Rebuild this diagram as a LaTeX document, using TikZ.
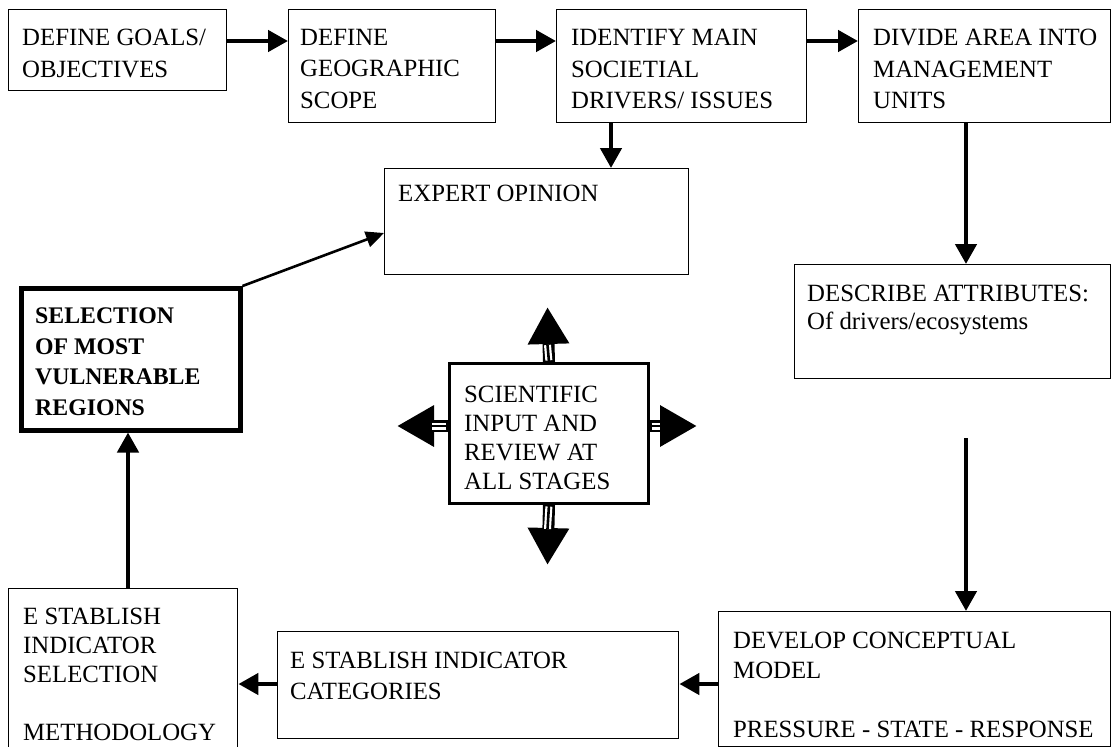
\documentclass[tikz,border=0pt]{standalone}
\usepackage{fontspec}
\setmainfont{Liberation Serif}
\usetikzlibrary{arrows.meta}
\tikzset{
  box/.style={draw=black, line width=1.4pt, anchor=north west, inner sep=0pt},
  txt/.style={anchor=north west, inner sep=0pt, align=left, font=\fontsize{24.8}{29}\selectfont},
  toptxt/.style={txt, font=\fontsize{24.8}{31.5}\selectfont},
  arr/.style={line width=4.5pt, -{Triangle[length=20pt,width=21pt]}},
  thinarr/.style={line width=2.6pt, -{Triangle[length=18pt,width=16pt]}},
  bigarr/.style={line width=12pt, -{Triangle[length=37pt,width=39pt]}},
  gapw/.style={white, line width=7pt, shorten <=1.6pt},
  gapb/.style={black, line width=2.6pt},
}
\begin{document}
\begin{tikzpicture}[x=1pt,y=-1pt]
\clip (0,0) rectangle (1112,747);
\fill[white] (0,0) rectangle (1112,747);

% boxes
\node[box, minimum width=218pt, minimum height=81pt] (goals) at (8,9) {};
\node[box, minimum width=207pt, minimum height=113pt] (geog) at (288,9) {};
\node[box, minimum width=250pt, minimum height=113pt] (ident) at (556,9) {};
\node[box, minimum width=252pt, minimum height=113pt] (divide) at (858,9) {};
\node[box, minimum width=304pt, minimum height=106pt] (expert) at (384,168) {};
\node[box, line width=4.5pt, minimum width=219pt, minimum height=142pt] (select) at (19,286) {};
\node[box, line width=3pt, minimum width=199pt, minimum height=140pt] (sci) at (448,362) {};
\node[box, minimum width=316pt, minimum height=114pt] (describe) at (794,264) {};
\node[box, minimum width=392pt, minimum height=135pt] (develop) at (718,611) {};
\node[box, minimum width=401pt, minimum height=107pt] (categ) at (277,631) {};
\node[box, minimum width=229pt, minimum height=180pt] (selind) at (8,588) {};

% texts
\node[toptxt] (goalsT) at (22,29) {DEFINE GOALS/\\OBJECTIVES};
\node[toptxt] (geogT) at (300,29) {DEFINE\\GEOGRAPHIC\\SCOPE};
\node[toptxt] (identT) at (571,29) {IDENTIFY MAIN\\SOCIETIAL\\DRIVERS/ ISSUES};
\node[toptxt] (divideT) at (873,29) {DIVIDE AREA INTO\\MANAGEMENT\\UNITS};
\node[txt] (expertT) at (398,185) {EXPERT OPINION};
\node[txt, font=\fontsize{23.8}{30.5}\selectfont\bfseries] (selectT) at (35,308) {SELECTION\\OF MOST\\VULNERABLE\\REGIONS};
\node[txt] (sciT) at (464,386) {SCIENTIFIC\\INPUT AND\\REVIEW AT\\ALL STAGES};
\node[txt, font=\fontsize{24.8}{28}\selectfont] (describeT) at (807,285) {DESCRIBE ATTRIBUTES:\\Of drivers/ecosystems};
\node[txt, font=\fontsize{24.8}{29.5}\selectfont] (developT) at (733,632) {DEVELOP CONCEPTUAL\\MODEL\\[29.5pt]PRESSURE - STATE - RESPONSE};
\node[txt, font=\fontsize{24.8}{31}\selectfont] (categT) at (290,652) {E STABLISH INDICATOR\\CATEGORIES};
\node[txt] (selindT) at (23,608) {E STABLISH\\INDICATOR\\SELECTION\\[29pt]METHODOLOGY};

% helper coordinates
\coordinate (row) at (0,41);
\coordinate (colA) at (611,0);
\coordinate (colB) at (966,0);
\coordinate (gapStart) at (966,438);
\coordinate (rowB) at (0,684);
\coordinate (colC) at (128,0);
\coordinate (expIn) at (384,233);

% flow arrows
\draw[arr] (goals.east |- row) -- (geog.west |- row);
\draw[arr] (geog.east |- row) -- (ident.west |- row);
\draw[arr] (ident.east |- row) -- (divide.west |- row);
\draw[arr] (ident.south -| colA) -- (expert.north -| colA);
\draw[arr] (divide.south -| colB) -- (describe.north -| colB);
\draw[arr] (gapStart) -- (develop.north -| gapStart);
\draw[arr] (develop.west |- rowB) -- (categ.east |- rowB);
\draw[arr] (categ.west |- rowB) -- (selind.east |- rowB);
\draw[arr] (selind.north -| colC) -- (select.south -| colC);
\draw[thinarr] (select.north east) -- (expIn);

% cross arrows from the scientific box
\coordinate (upBase) at (547.5,345);
\coordinate (upEnd) at (547.5,307);
\coordinate (dnBase) at (547.5,529);
\coordinate (dnEnd) at (547.5,565);
\coordinate (lfBase) at (432,426);
\coordinate (lfEnd) at (397,426);
\coordinate (rtBase) at (660,426);
\coordinate (rtEnd) at (697,426);

\draw[bigarr] (sci.north) -- (upEnd);
\draw[gapw] (sci.north) -- (upBase);
\draw[gapb] (sci.north) -- (upBase);

\draw[bigarr] (sci.south) -- (dnEnd);
\draw[gapw] (sci.south) -- (dnBase);
\draw[gapb] (sci.south) -- (dnBase);

\draw[bigarr] (sci.west |- lfEnd) -- (lfEnd);
\draw[gapw] (sci.west |- lfEnd) -- (lfBase);
\draw[gapb] (sci.west |- lfEnd) -- (lfBase);

\draw[bigarr] (sci.east |- rtEnd) -- (rtEnd);
\draw[gapw] (sci.east |- rtEnd) -- (rtBase);
\draw[gapb] (sci.east |- rtEnd) -- (rtBase);
\end{tikzpicture}
\end{document}
